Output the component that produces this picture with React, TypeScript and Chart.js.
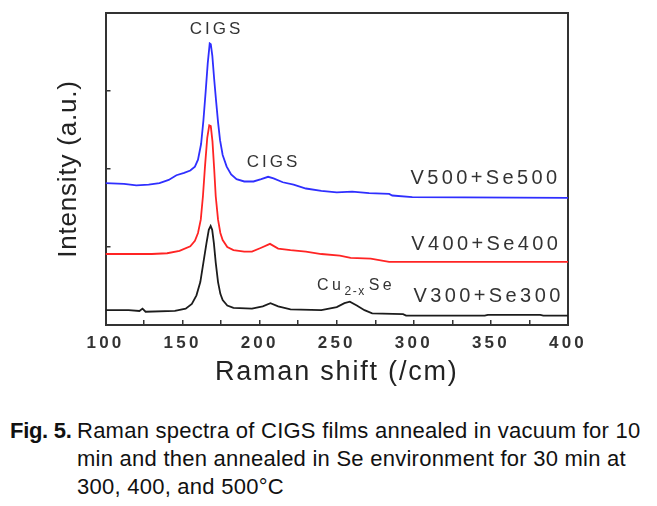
import React, { useEffect, useRef } from 'react';
import { Chart, registerables, LinearScale } from 'chart.js';

// ---------- data ----------
const blueX = [100, 112, 120, 128, 135, 141, 146, 151, 155, 158, 160, 162, 163.5, 165, 166.3, 167.6, 168.3, 169.3, 170.5, 171.7, 173, 174.3, 176, 178.6, 181.5, 185, 190, 196, 201, 205.5, 209, 215, 222, 230, 240, 250, 260, 271, 284, 286, 299, 400];
const blueY = [1.82, 1.81, 1.79, 1.8, 1.82, 1.86, 1.92, 1.95, 1.98, 2.03, 2.12, 2.32, 2.62, 3.0, 3.35, 3.61, 3.6, 3.45, 3.15, 2.88, 2.6, 2.37, 2.18, 2.03, 1.93, 1.87, 1.84, 1.84, 1.87, 1.9, 1.88, 1.83, 1.8, 1.75, 1.72, 1.7, 1.71, 1.69, 1.68, 1.66, 1.64, 1.63];

const redX = [100, 130, 140, 148, 155, 158, 160, 161.8, 163.2, 164.6, 166, 167.3, 168.3, 169.4, 170.5, 171.5, 173, 174.5, 176, 179, 183, 190, 195, 201, 206.7, 212, 220, 230, 240, 252, 259, 272, 284, 400];
const redY = [0.91, 0.91, 0.92, 0.95, 1.01, 1.08, 1.18, 1.35, 1.65, 2.05, 2.4, 2.56, 2.55, 2.35, 2.0, 1.65, 1.35, 1.18, 1.09, 1.0, 0.96, 0.94, 0.94, 0.99, 1.04, 0.98, 0.96, 0.94, 0.91, 0.89, 0.86, 0.85, 0.81, 0.81];

const blackX = [100, 115, 122, 124, 126, 145, 152, 156, 159, 161.5, 163.5, 165.5, 167, 168.2, 169.2, 170.3, 171.5, 173, 174.5, 176, 179, 183, 195, 202, 207, 212, 220, 240, 250, 255, 258.5, 263, 268, 273, 293, 295, 346, 348, 382, 384, 400];
const blackY = [0.19, 0.19, 0.18, 0.21, 0.17, 0.18, 0.21, 0.27, 0.38, 0.55, 0.8, 1.05, 1.22, 1.27, 1.22, 1.05, 0.8, 0.55, 0.4, 0.32, 0.25, 0.22, 0.21, 0.24, 0.28, 0.24, 0.2, 0.19, 0.23, 0.28, 0.3, 0.25, 0.19, 0.15, 0.14, 0.12, 0.12, 0.13, 0.13, 0.12, 0.12];

const seriesNames = ['V500+Se500', 'V400+Se400', 'V300+Se300'];
const xTickLabels = ['100', '150', '200', '250', '300', '350', '400'];

// peak / series annotations (data coordinates)
const annotationTexts = ['CIGS', 'CIGS', 'V500+Se500', 'V400+Se400', 'V300+Se300'];
const annotationX = [171, 208, 393, 393.5, 395];
const annotationY = [3.79, 2.08, 1.88, 1.03, 0.37];
const cuLabelParts = ['Cu', '2-x', 'Se'];
const cuLabelX = 237.2;
const cuLabelY = 0.51;

// ---------- styling ----------
const FONT = '"Liberation Sans", Arial, Helvetica, sans-serif';
const AXIS_COLOR = '#333';
const TEXT_COLOR = '#222';

const labelSpacing: Record<string, number> = { x: 3.2, y: 0 };
const titleSpacing: Record<string, number> = { x: 1.8, y: 0.8 };

class SpacedLinearScale extends LinearScale {
  static id = 'spacedLinear';
  drawLabels(area: any) {
    const ctx: any = this.ctx;
    ctx.save();
    ctx.letterSpacing = (labelSpacing[this.id] || 0) + 'px';
    super.drawLabels(area);
    ctx.restore();
  }
  drawTitle() {
    const ctx: any = this.ctx;
    ctx.save();
    ctx.letterSpacing = (titleSpacing[this.id] || 0) + 'px';
    super.drawTitle();
    ctx.restore();
  }
}

Chart.register(...registerables, SpacedLinearScale);

const peakLabelPlugin = {
  id: 'peakLabels',
  afterDatasetsDraw(chart: any) {
    const { ctx, scales } = chart;
    const xs = scales.x;
    const ys = scales.y;
    ctx.save();
    ctx.fillStyle = AXIS_COLOR;
    ctx.textBaseline = 'middle';
    annotationTexts.forEach((t, i) => {
      const isPeak = t === 'CIGS';
      const size = isPeak ? 17 : 20;
      const sp = isPeak ? 3 : 3.4;
      ctx.font = `${size}px ${FONT}`;
      ctx.letterSpacing = sp + 'px';
      ctx.textAlign = isPeak ? 'center' : 'right';
      const px = xs.getPixelForValue(annotationX[i]) + (isPeak ? sp / 2 : sp);
      ctx.fillText(t, px, ys.getPixelForValue(annotationY[i]));
    });
    // Cu2-xSe with subscript
    let px = xs.getPixelForValue(cuLabelX);
    const py = ys.getPixelForValue(cuLabelY);
    ctx.textAlign = 'left';
    cuLabelParts.forEach((part, i) => {
      const sub = i === 1;
      ctx.font = `${sub ? 12 : 16}px ${FONT}`;
      ctx.letterSpacing = (sub ? 1.5 : 3.5) + 'px';
      ctx.fillText(part, px, py + (sub ? 6 : 0));
      px += ctx.measureText(part).width + (sub ? 3 : 0);
    });
    ctx.restore();
  },
};

function pts(xs: number[], ys: number[]) {
  return xs.map((x, i) => ({ x, y: ys[i] }));
}

export default function App() {
  const ref = useRef<HTMLCanvasElement>(null);

  useEffect(() => {
    if (!ref.current) return;
    const border = { display: true, color: AXIS_COLOR, width: 2 };
    const chart = new Chart(ref.current, {
      type: 'line',
      data: {
        datasets: [
          { label: seriesNames[0], data: pts(blueX, blueY), borderColor: '#2f2fff', borderWidth: 1.8, pointRadius: 0, tension: 0 },
          { label: seriesNames[1], data: pts(redX, redY), borderColor: '#ff2424', borderWidth: 1.8, pointRadius: 0, tension: 0 },
          { label: seriesNames[2], data: pts(blackX, blackY), borderColor: '#1c1c1c', borderWidth: 1.8, pointRadius: 0, tension: 0 },
        ],
      },
      options: {
        animation: false,
        responsive: false,
        devicePixelRatio: 1,
        layout: { padding: 0 },
        plugins: { legend: { display: false }, tooltip: { enabled: false } },
        scales: {
          x: {
            type: 'spacedLinear' as any,
            position: 'bottom',
            min: 100,
            max: 400,
            ticks: {
              stepSize: 25,
              autoSkip: false,
              maxRotation: 0,
              padding: 13,
              color: AXIS_COLOR,
              font: { family: FONT, size: 17, weight: 'bold' },
              callback: (v: any) => {
                const s = String(v);
                return xTickLabels.includes(s) ? s : '';
              },
            },
            grid: { drawOnChartArea: false, drawTicks: true, tickLength: -5, color: AXIS_COLOR, lineWidth: 1.5 },
            border,
            title: { display: true, text: 'Raman shift (/cm)', color: TEXT_COLOR, font: { family: FONT, size: 27 }, padding: { top: 0, bottom: 11 } },
            afterFit: (s: any) => { s.height = 75; },
          },
          y: {
            type: 'spacedLinear' as any,
            position: 'left',
            min: 0,
            max: 4,
            ticks: { stepSize: 1, callback: () => '' },
            grid: { drawOnChartArea: false, drawTicks: true, tickLength: -5, color: AXIS_COLOR, lineWidth: 1.5 },
            border,
            title: { display: true, text: 'Intensity (a.u.)', color: TEXT_COLOR, font: { family: FONT, size: 26 }, padding: { top: 53, bottom: 0 } },
            afterFit: (s: any) => { s.width = 105.5; },
          },
          x2: {
            type: 'linear',
            position: 'top',
            min: 100,
            max: 400,
            ticks: { display: false },
            grid: { display: false },
            border,
            afterFit: (s: any) => { s.height = 13; },
          },
          y2: {
            type: 'linear',
            position: 'right',
            min: 0,
            max: 4,
            ticks: { display: false },
            grid: { display: false },
            border,
            afterFit: (s: any) => { s.width = 89; },
          },
        },
      } as any,
      plugins: [peakLabelPlugin],
    });
    return () => chart.destroy();
  }, []);

  const captionStyle: React.CSSProperties = {
    position: 'absolute',
    left: 10,
    top: 417,
    font: `22px/28px ${FONT}`,
    letterSpacing: '0.25px',
    color: '#111',
    whiteSpace: 'nowrap',
  };

  return (
    <div style={{ position: 'fixed', left: 0, top: 0, width: 657, height: 506, background: '#fff', overflow: 'hidden' }}>
      <canvas ref={ref} width={657} height={400} style={{ position: 'absolute', left: 0, top: 0, width: 657, height: 400 }} />
      <div style={captionStyle}>
        <div>
          <span style={{ display: 'inline-block', width: 67, fontWeight: 'bold', letterSpacing: '-0.3px' }}>Fig. 5.</span>
          Raman spectra of CIGS films annealed in vacuum for 10
        </div>
        <div style={{ paddingLeft: 67 }}>min and then annealed in Se environment for 30 min at</div>
        <div style={{ paddingLeft: 67 }}>300, 400, and 500°C</div>
      </div>
    </div>
  );
}
